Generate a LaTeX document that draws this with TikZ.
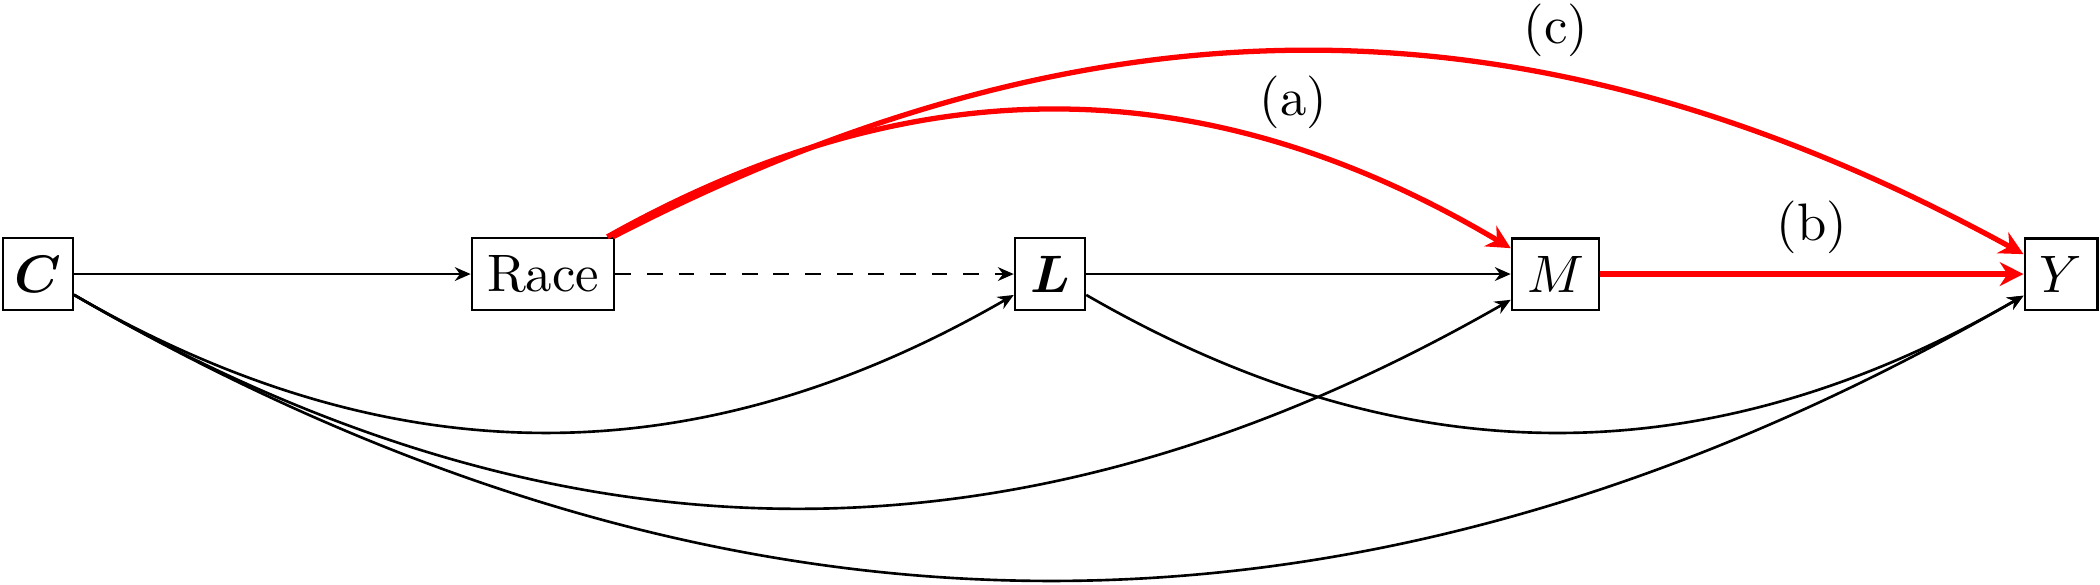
\documentclass[tikz,border=0pt]{standalone}
\usepackage{amsmath,amssymb}
\usepackage{xcolor}
\usetikzlibrary{positioning,arrows.meta}

\begin{document}
\begin{tikzpicture}[
    >={Stealth[length=3pt, width=2.6pt]},
    line width=0.5pt,
    var/.style={draw, line width=0.4pt, minimum height=0.467cm, inner xsep=2.9pt},
    redpath/.style={-{Stealth[length=4.5pt, width=4.5pt]}, red, line width=1pt},
    lab/.style={text=black}
]
\useasboundingbox (0,0) rectangle (14,-3.9);

% Column positions
\def\colC{0.253}
\def\colR{3.62}
\def\colL{7.0}
\def\colM{10.37}
\def\colY{13.74}
\def\rowy{-1.827}

% === Nodes ===
\node[var, inner xsep=2.2pt] (c) at (\colC, \rowy) {$\boldsymbol{C}$};
\node[var] (race) at (\colR, \rowy) {Race};
\node[var] (l) at (\colL, \rowy) {$\boldsymbol{L}$};
\node[var] (m) at (\colM, \rowy) {$M$};
\node[var] (y) at (\colY, \rowy) {$Y$};

% Straight edges
\draw[->] (c) -- (race);
\draw[->, dashed] (race) -- (l);
\draw[->] (l) -- (m);

% Curved edges below
\draw[->] (c) to[bend right=30] (l);
\draw[->] (c) to[bend right=30] (m);
\draw[->] (c) to[bend right=30] (y);
\draw[->] (l) to[bend right=30] (y);

% === Highlighted paths ===
\draw[redpath] (race) to[bend left=30] node[lab, pos=0.76, above] {(a)} (m);
\draw[redpath] (m) -- node[lab, above] {(b)} (y);
\draw[redpath] (race) to[bend left=28] node[lab, pos=0.67, above] {(c)} (y);

\end{tikzpicture}
\end{document}
